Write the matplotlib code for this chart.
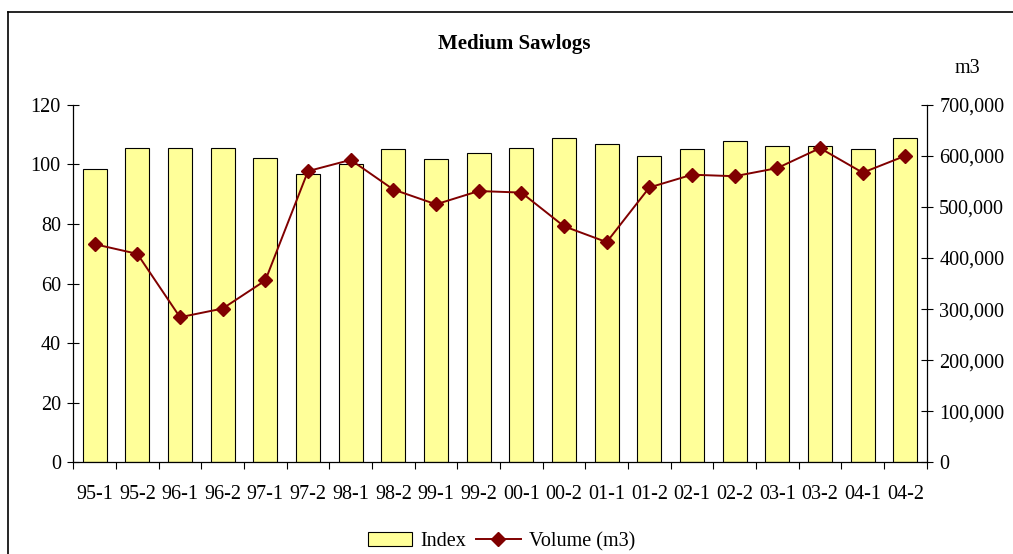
import matplotlib
matplotlib.use("Agg")
import matplotlib.pyplot as plt
from matplotlib.ticker import FuncFormatter, FixedLocator
from matplotlib.lines import Line2D
import numpy as np

categories = ["95-1", "95-2", "96-1", "96-2", "97-1", "97-2", "98-1", "98-2", "99-1", "99-2",
              "00-1", "00-2", "01-1", "01-2", "02-1", "02-2", "03-1", "03-2", "04-1", "04-2"]
index_values = [98.3, 105.6, 105.6, 105.6, 102.2, 96.6, 100.0, 105.0, 101.7, 103.9,
                105.6, 108.9, 106.7, 102.7, 105.0, 107.7, 106.0, 106.0, 105.0, 108.9]
volume_values = [427000, 408000, 284000, 301000, 356000, 570000, 592000, 534000, 505000, 531000,
                 528000, 462000, 431000, 538000, 563000, 560000, 576000, 615000, 567000, 600000]
left_ticks = [0, 20, 40, 60, 80, 100, 120]
right_ticks = [0, 100000, 200000, 300000, 400000, 500000, 600000, 700000]

plt.rcParams['font.family'] = ['Liberation Serif', 'DejaVu Serif']
FS = 14.5

fig = plt.figure(figsize=(10.13, 5.54), dpi=100)
ax = fig.add_axes([0.0724, 0.1655, 0.8424, 0.6455])
x = np.arange(len(categories))
ax.bar(x, index_values, width=0.56, color="#FFFF99", edgecolor="black", linewidth=0.8, label="Index")
ax.set_xlim(-0.5, len(categories) - 0.5)
ax.set_ylim(0, 120)
ax.set_yticks(left_ticks)
ax.spines['top'].set_visible(False)
ax.spines['right'].set_visible(False)
for s in ['left', 'bottom']:
    ax.spines[s].set_linewidth(0.9)
ax.set_xticks(x)
ax.set_xticklabels(categories, fontsize=FS)
ax.xaxis.set_minor_locator(FixedLocator(np.arange(-0.5, len(categories), 1.0)))
ax.tick_params(axis='x', which='major', length=0, pad=16)
ax.tick_params(axis='x', which='minor', length=5, direction='out', width=0.8)
ax.tick_params(axis='y', which='major', length=8, direction='inout', width=0.8, labelsize=FS, pad=5)

ax2 = ax.twinx()
ax2.plot(x, volume_values, color="#800000", marker="D", markersize=7.5, linewidth=1.4, label="Volume (m3)")
ax2.set_ylim(0, 700000)
ax2.set_yticks(right_ticks)
ax2.yaxis.set_major_formatter(FuncFormatter(lambda v, p: f"{int(v):,}"))
ax2.tick_params(axis='y', which='major', length=8, direction='inout', width=0.8, labelsize=FS, pad=5)
for s in ['top', 'left', 'bottom']:
    ax2.spines[s].set_visible(False)
ax2.spines['right'].set_linewidth(0.9)

fig.text(0.508, 0.9206, "Medium Sawlogs", ha="center", va="center", fontsize=15, fontweight="bold")
fig.text(0.955, 0.877, "m3", ha="center", va="center", fontsize=FS)

h1, l1 = ax.get_legend_handles_labels()
h2, l2 = ax2.get_legend_handles_labels()
fig.legend(h1 + h2, l1 + l2, loc="center", bbox_to_anchor=(0.495, 0.022), ncol=2, frameon=False,
           fontsize=FS, handlelength=2.2, handletextpad=0.4, columnspacing=0.5)

# outer chart frame
fig.add_artist(Line2D([8/1013, 8/1013], [0, 1 - 12/554], transform=fig.transFigure, color="black", linewidth=1.2))
fig.add_artist(Line2D([8/1013, 1], [1 - 12/554, 1 - 12/554], transform=fig.transFigure, color="black", linewidth=1.2))

fig.savefig("out.png", dpi=100)
